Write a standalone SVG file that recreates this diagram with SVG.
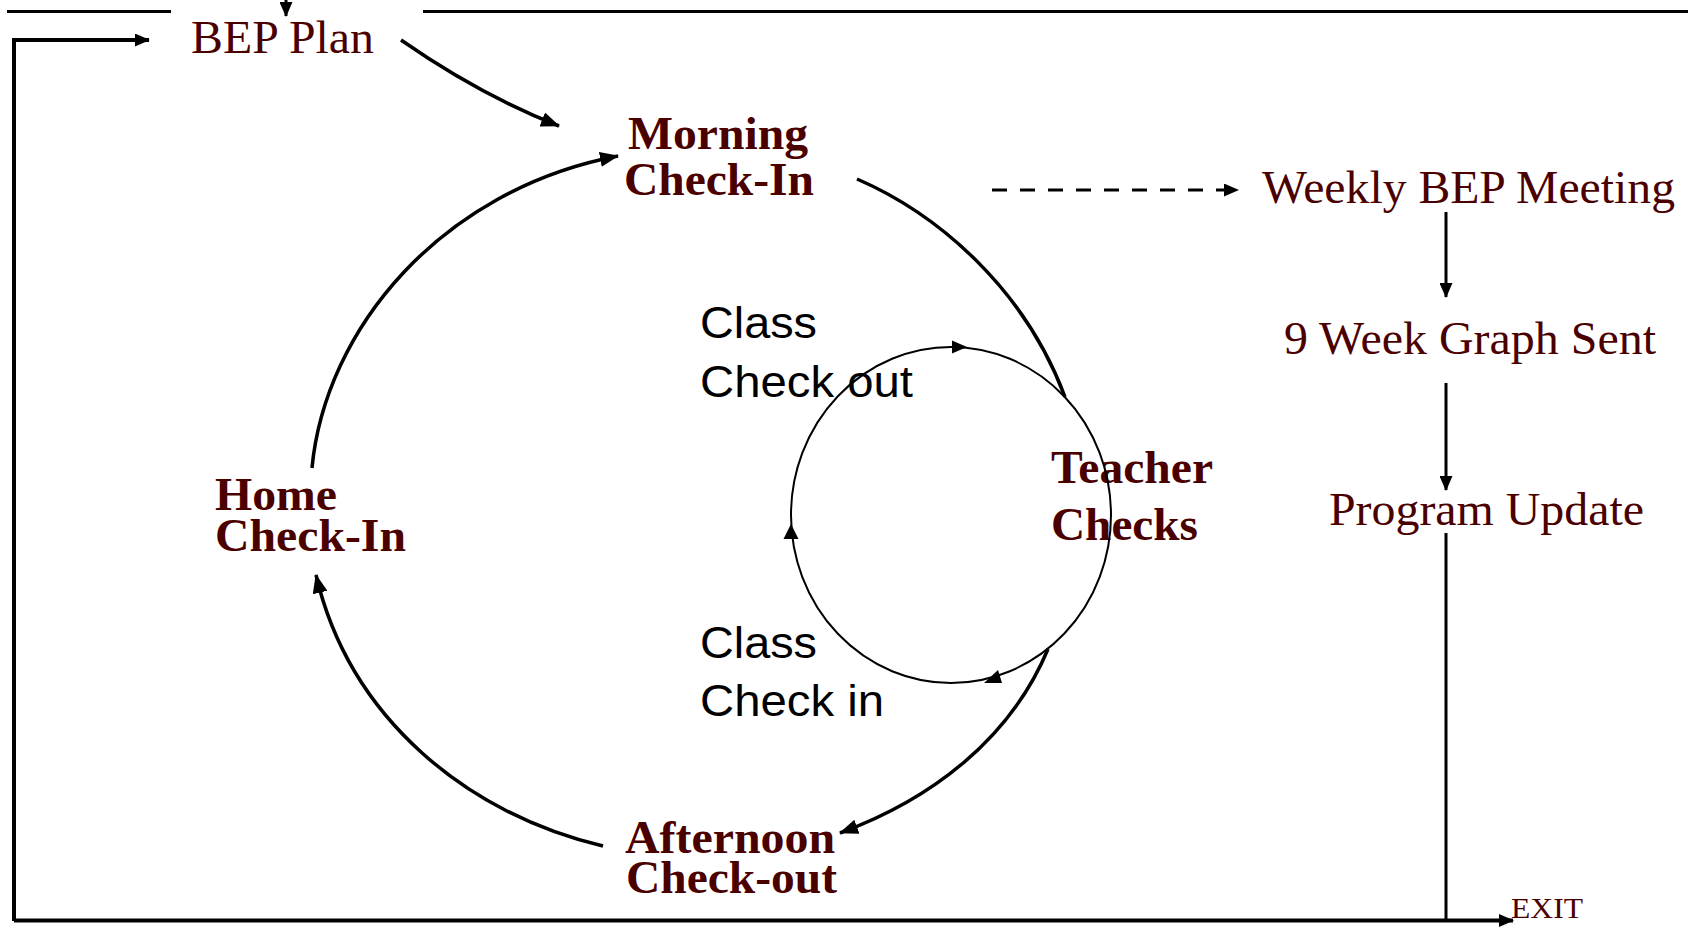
<svg xmlns="http://www.w3.org/2000/svg" width="1688" height="927" viewBox="0 0 1688 927">
<style>
.lbl{font-family:"Liberation Serif","Times New Roman",serif;fill:#4b0000;font-size:47px}
.b{font-weight:bold}
.sans{font-family:"Liberation Sans",Arial,sans-serif;fill:#000;font-size:45px}
.thick{fill:none;stroke:#000;stroke-width:3.5}
.frame{fill:none;stroke:#000;stroke-width:4}
.thin{fill:none;stroke:#000;stroke-width:2}
.mid{fill:none;stroke:#000;stroke-width:3}
.head{fill:#000}
</style>
<defs>
<marker id="big" markerWidth="19" markerHeight="15" refX="18" refY="7.5" orient="auto" markerUnits="userSpaceOnUse"><path class="head" d="M0,0 L19,7.5 L0,15 z"/></marker>
<marker id="small" markerWidth="15" markerHeight="13" refX="14" refY="6.5" orient="auto" markerUnits="userSpaceOnUse"><path class="head" d="M0,0 L15,6.5 L0,13 z"/></marker>
</defs>
<rect width="1688" height="927" fill="#fff"/>

<g id="bep-plan"><text class="lbl" x="191" y="53" textLength="183" lengthAdjust="spacingAndGlyphs">BEP Plan</text></g>
<g id="morning-check-in">
<text class="lbl b" x="628" y="149" textLength="180" lengthAdjust="spacingAndGlyphs">Morning</text>
<text class="lbl b" x="624" y="195" textLength="190" lengthAdjust="spacingAndGlyphs">Check-In</text>
</g>
<g id="home-check-in">
<text class="lbl b" x="215" y="510" textLength="122" lengthAdjust="spacingAndGlyphs">Home</text>
<text class="lbl b" x="215" y="551" textLength="191" lengthAdjust="spacingAndGlyphs">Check-In</text>
</g>
<g id="teacher-checks">
<text class="lbl b" x="1051" y="483" textLength="162" lengthAdjust="spacingAndGlyphs">Teacher</text>
<text class="lbl b" x="1051" y="540" textLength="147" lengthAdjust="spacingAndGlyphs">Checks</text>
</g>
<g id="afternoon-check-out">
<text class="lbl b" x="625" y="853" textLength="210" lengthAdjust="spacingAndGlyphs">Afternoon</text>
<text class="lbl b" x="626" y="893" textLength="211" lengthAdjust="spacingAndGlyphs">Check-out</text>
</g>
<g id="class-check-out">
<text class="sans" x="700" y="338" textLength="117" lengthAdjust="spacingAndGlyphs">Class</text>
<text class="sans" x="700" y="397" textLength="213" lengthAdjust="spacingAndGlyphs">Check out</text>
</g>
<g id="class-check-in">
<text class="sans" x="700" y="658" textLength="117" lengthAdjust="spacingAndGlyphs">Class</text>
<text class="sans" x="700" y="716" textLength="184" lengthAdjust="spacingAndGlyphs">Check in</text>
</g>
<g id="weekly-bep-meeting"><text class="lbl" x="1262" y="203" textLength="413" lengthAdjust="spacingAndGlyphs">Weekly BEP Meeting</text></g>
<g id="graph-sent"><text class="lbl" x="1284" y="354" textLength="372" lengthAdjust="spacingAndGlyphs">9 Week Graph Sent</text></g>
<g id="program-update"><text class="lbl" x="1329" y="525" textLength="315" lengthAdjust="spacingAndGlyphs">Program Update</text></g>
<g id="exit"><text class="lbl" x="1511" y="918" style="font-size:30px" textLength="72" lengthAdjust="spacingAndGlyphs">EXIT</text></g>

<g id="connectors">
<!-- frame -->
<path class="mid" d="M7,11.5 H171"/>
<path class="mid" d="M423,11.5 H1688"/>
<path class="mid" d="M286,0 V16" marker-end="url(#small)"/>
<path class="frame" d="M14,921 V40 H149" marker-end="url(#small)"/>
<path class="frame" d="M14,920.5 H1513" marker-end="url(#small)"/>
<path class="mid" d="M1446,533 V920"/>
<!-- BEP plan to morning -->
<path class="thick" d="M401,40 Q480,95 559,126" marker-end="url(#big)"/>
<!-- big cycle -->
<path class="thick" d="M312,468 C325,330 440,190 618,156" marker-end="url(#big)"/>
<path class="thick" d="M857,179 C940,215 1025,290 1065,397"/>
<path class="thick" d="M1048,649 C1010,740 930,800 840,833" marker-end="url(#big)"/>
<path class="thick" d="M603,846 C470,815 350,720 316,575" marker-end="url(#big)"/>
<!-- inner cycle -->
<ellipse class="thin" cx="951" cy="515" rx="160" ry="168"/>
<polygon class="head" points="967,347 952,340.5 952,353.5"/>
<polygon class="head" points="791,524 783.5,539 798.5,539"/>
<polygon class="head" points="984,683 998,670 1002,683"/>
<!-- right column -->
<path class="mid" d="M992,190 H1238" stroke-dasharray="15 13" marker-end="url(#small)"/>
<path class="mid" d="M1446,212 V297" marker-end="url(#small)"/>
<path class="mid" d="M1446,383 V490" marker-end="url(#small)"/>
</g>
</svg>
